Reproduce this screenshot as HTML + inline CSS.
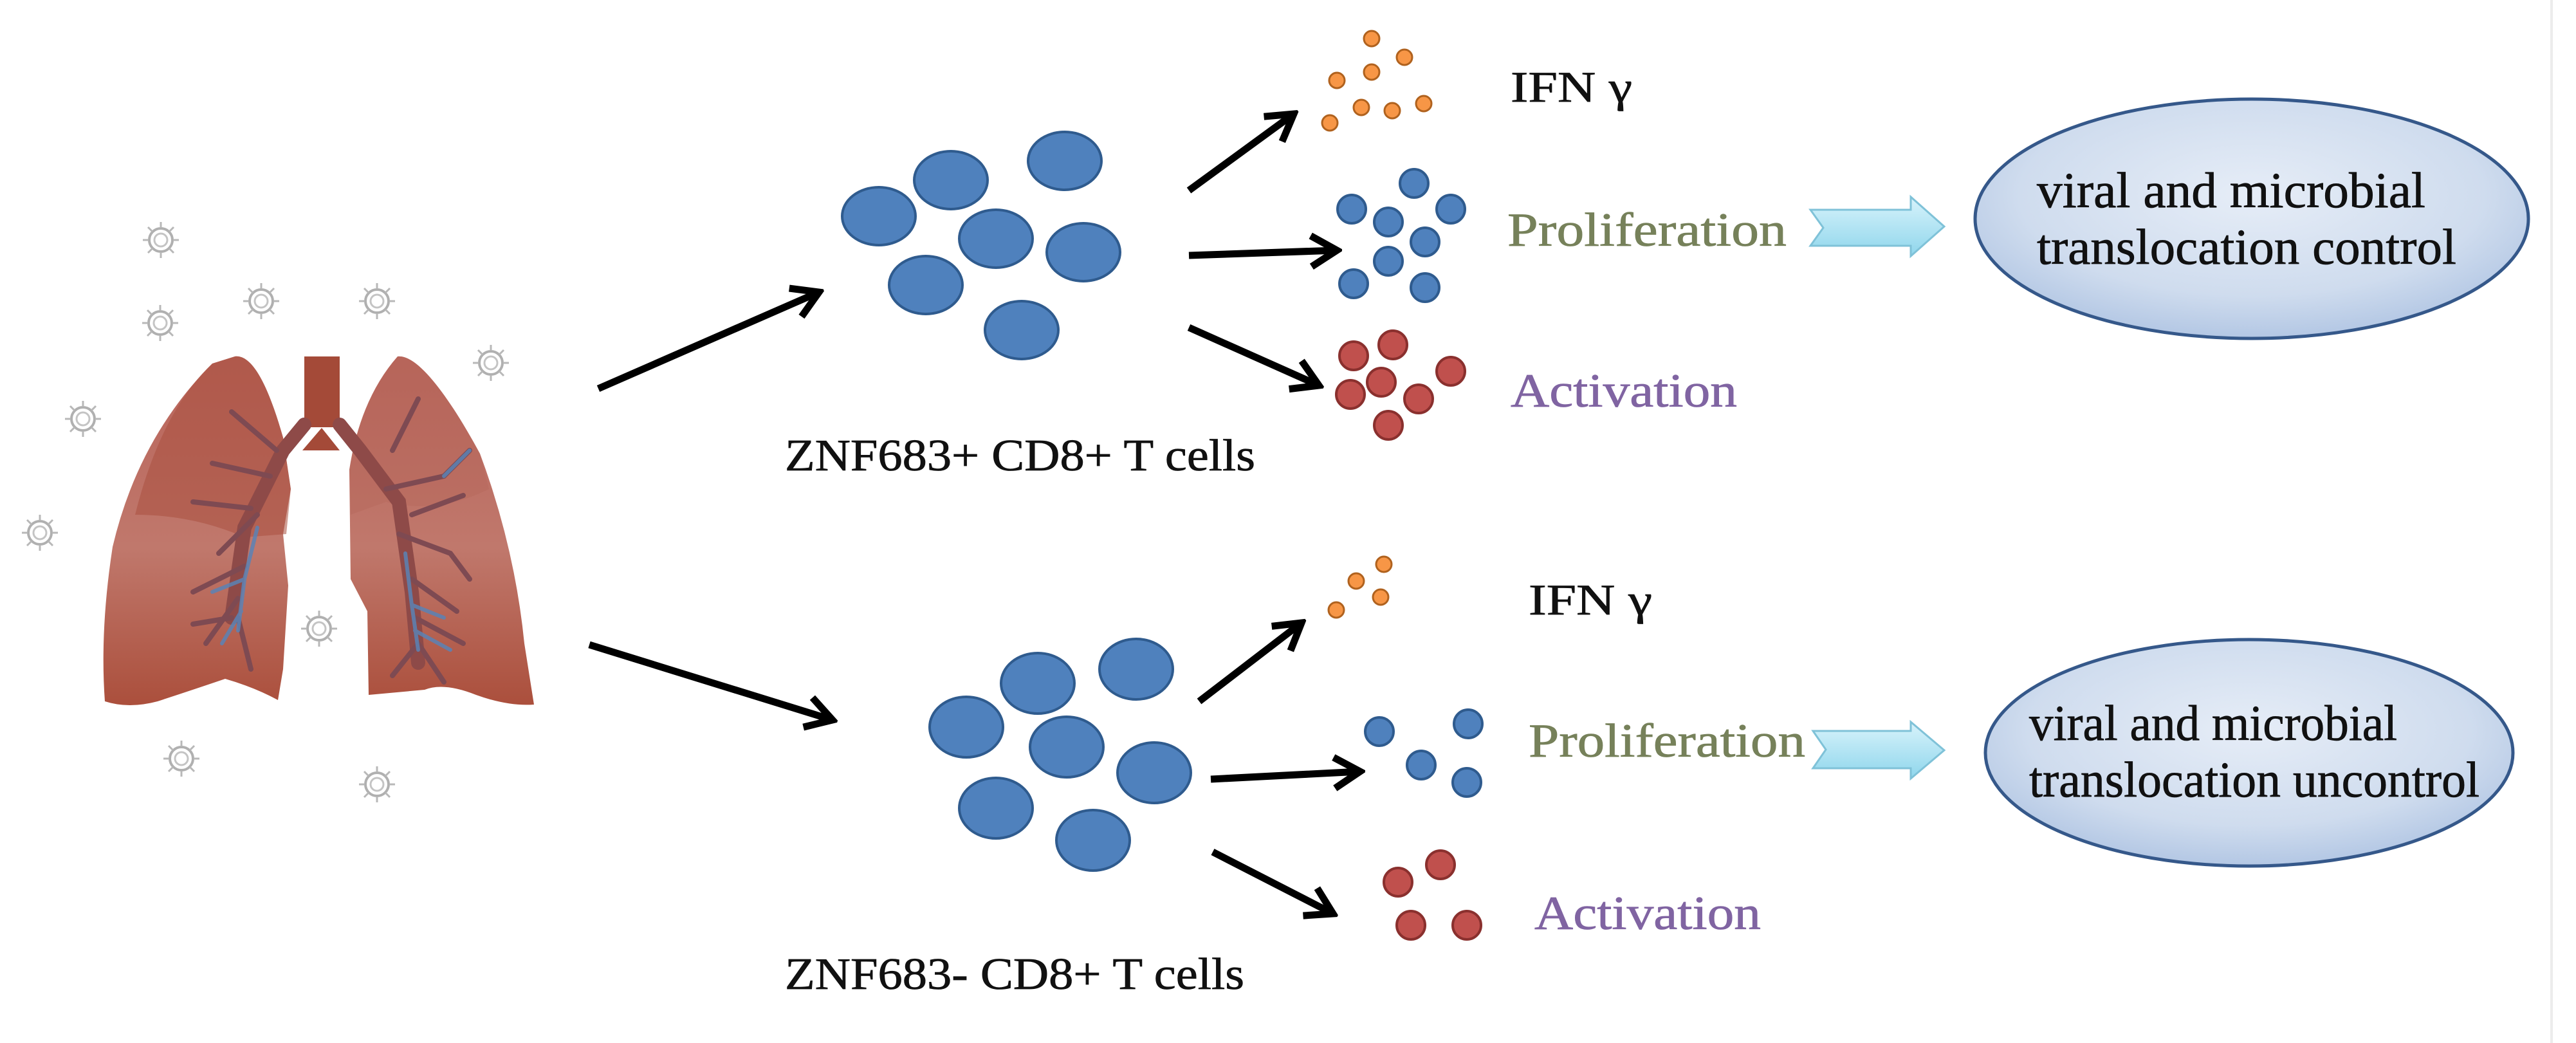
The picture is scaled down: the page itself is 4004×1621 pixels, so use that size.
<!DOCTYPE html>
<html><head><meta charset="utf-8"><style>
html,body{margin:0;padding:0;background:#fff;}
svg{display:block;}
</style></head><body>
<svg width="4004" height="1621" viewBox="0 0 4004 1621" xmlns="http://www.w3.org/2000/svg">
<defs>
<marker id="ah" markerUnits="userSpaceOnUse" viewBox="0 0 60 60" markerWidth="60" markerHeight="60" refX="52" refY="30" orient="auto">
<path d="M12,6 L52,30 L12,54" fill="none" stroke="#000" stroke-width="11" stroke-linejoin="miter"/>
</marker>
<radialGradient id="eg" cx="50%" cy="40%" r="60%">
<stop offset="0" stop-color="#e6edf7"/><stop offset="0.7" stop-color="#cfdcee"/><stop offset="1" stop-color="#b3c7e4"/>
</radialGradient>
<linearGradient id="bg" x1="0" y1="0" x2="0" y2="1">
<stop offset="0" stop-color="#d8f3fb"/><stop offset="1" stop-color="#8fd6ec"/>
</linearGradient>
<linearGradient id="lg" x1="0" y1="0" x2="0" y2="1">
<stop offset="0" stop-color="#b9645a"/><stop offset="0.55" stop-color="#c0786c"/><stop offset="1" stop-color="#ab4f3c"/>
</linearGradient>
<g id="vir">
<circle r="18" fill="#fff" stroke="#b0b0b0" stroke-width="4"/>
<circle r="10" fill="none" stroke="#c4c4c4" stroke-width="3"/>
<g stroke="#b8b8b8" stroke-width="3">
<line x1="0" y1="-19" x2="0" y2="-28"/><line x1="0" y1="19" x2="0" y2="28"/>
<line x1="-19" y1="0" x2="-28" y2="0"/><line x1="19" y1="0" x2="28" y2="0"/>
<line x1="13" y1="13" x2="20" y2="20"/><line x1="-13" y1="-13" x2="-20" y2="-20"/>
<line x1="13" y1="-13" x2="20" y2="-20"/><line x1="-13" y1="13" x2="-20" y2="20"/>
</g>
</g>
</defs>

<line x1="3966" y1="0" x2="3966" y2="1621" stroke="#ececec" stroke-width="4"/>

<use href="#vir" x="250" y="373"/><use href="#vir" x="249" y="502"/><use href="#vir" x="406" y="468"/>
<use href="#vir" x="586" y="468"/><use href="#vir" x="763" y="564"/><use href="#vir" x="129" y="651"/>
<use href="#vir" x="62" y="828"/><use href="#vir" x="496" y="977"/><use href="#vir" x="282" y="1179"/>
<use href="#vir" x="586" y="1219"/>

<path d="M365,554 C395,550 420,610 440,680 L452,760 L440,830 L448,910 L440,1040 L432,1088 Q395,1068 350,1055 Q300,1072 245,1090 Q200,1102 163,1090 Q155,980 175,850 Q215,680 330,565 Z" fill="url(#lg)"/>
<path d="M365,554 C395,550 420,610 440,680 L452,760 L445,830 L380,835 Q300,800 210,800 Q250,640 330,565 Z" fill="#a9503f" opacity="0.55"/>
<path d="M618,554 C650,550 700,620 746,705 Q800,850 815,1000 L830,1095 Q790,1098 740,1080 Q690,1060 660,1072 L573,1080 L571,950 L545,900 L543,730 Q560,620 618,554 Z" fill="url(#lg)"/>
<path d="M618,554 C650,550 700,620 746,705 L760,760 Q680,800 600,780 L545,800 L543,730 Q560,620 618,554 Z" fill="#b5665a" opacity="0.4"/>
<rect x="473" y="554" width="55" height="110" fill="#a44a38"/>
<path d="M473,660 L440,700 L380,820 L360,960 M528,660 L560,700 L620,780 L640,920 L650,1030" fill="none" stroke="#8e4a48" stroke-width="22" stroke-linecap="round"/>
<path d="M440,700 L470,700 L500,665 L528,700 L560,700" fill="#a44a38"/>
<g fill="none" stroke="#7e4a52" stroke-width="8" stroke-linecap="round">
<path d="M420,740 L330,720 M390,790 L300,780 M430,700 L360,640 M400,800 L340,860 M380,880 L300,920 M370,930 L320,1000 M370,960 L390,1040 M360,960 L300,970"/>
<path d="M600,760 L690,740 L730,700 M640,800 L720,770 M620,830 L700,860 L730,900 M640,900 L710,950 M645,960 L720,1000 M650,1000 L610,1050 M650,1000 L690,1060 M610,700 L650,620"/>
</g>
<g fill="none" stroke="#5b82b5" stroke-width="6" stroke-linecap="round" opacity="0.85">
<path d="M400,820 L380,900 L370,980 M380,900 L330,920 M375,950 L345,1000"/>
<path d="M630,860 L640,940 L650,1010 M640,940 L690,960 M645,980 L700,1010 M690,740 L730,700"/>
</g>

<g stroke="#000" stroke-width="11" fill="none" marker-end="url(#ah)">
<line x1="930" y1="604" x2="1273" y2="454"/>
<line x1="916" y1="1002" x2="1294" y2="1119"/>
<line x1="1848" y1="296" x2="2011" y2="177"/>
<line x1="1848" y1="397" x2="2078" y2="389"/>
<line x1="1848" y1="509" x2="2050" y2="599"/>
<line x1="1864" y1="1090" x2="2023" y2="968"/>
<line x1="1882" y1="1211" x2="2114" y2="1199"/>
<line x1="1885" y1="1324" x2="2072" y2="1420"/>
</g>

<g fill="#4f81bd" stroke="#2f5b8e" stroke-width="4">
<ellipse cx="1366" cy="336" rx="57" ry="45"/><ellipse cx="1478" cy="280" rx="57" ry="45"/>
<ellipse cx="1655" cy="250" rx="57" ry="45"/><ellipse cx="1548" cy="371" rx="57" ry="45"/>
<ellipse cx="1684" cy="392" rx="57" ry="45"/><ellipse cx="1439" cy="443" rx="57" ry="45"/>
<ellipse cx="1588" cy="513" rx="57" ry="45"/>
<ellipse cx="1502" cy="1130" rx="57" ry="47"/><ellipse cx="1613" cy="1062" rx="57" ry="47"/>
<ellipse cx="1766" cy="1040" rx="57" ry="47"/><ellipse cx="1658" cy="1161" rx="57" ry="47"/>
<ellipse cx="1794" cy="1201" rx="57" ry="47"/><ellipse cx="1548" cy="1256" rx="57" ry="47"/>
<ellipse cx="1699" cy="1306" rx="57" ry="47"/>
</g>
<g fill="#4f81bd" stroke="#2f5b8e" stroke-width="4">
<ellipse cx="2198" cy="285" rx="22" ry="22"/><ellipse cx="2101" cy="325" rx="22" ry="22"/>
<ellipse cx="2255" cy="325" rx="22" ry="22"/><ellipse cx="2158" cy="345" rx="22" ry="22"/>
<ellipse cx="2215" cy="376" rx="22" ry="22"/><ellipse cx="2158" cy="406" rx="22" ry="22"/>
<ellipse cx="2104" cy="441" rx="22" ry="22"/><ellipse cx="2215" cy="447" rx="22" ry="22"/>
<ellipse cx="2144" cy="1137" rx="22" ry="22"/><ellipse cx="2282" cy="1125" rx="22" ry="22"/>
<ellipse cx="2209" cy="1189" rx="22" ry="22"/><ellipse cx="2280" cy="1216" rx="22" ry="22"/>
</g>
<g fill="#c0504d" stroke="#8a302e" stroke-width="4">
<ellipse cx="2165" cy="536" rx="22" ry="22"/><ellipse cx="2104" cy="553" rx="22" ry="22"/>
<ellipse cx="2255" cy="577" rx="22" ry="22"/><ellipse cx="2147" cy="594" rx="22" ry="22"/>
<ellipse cx="2099" cy="613" rx="22" ry="22"/><ellipse cx="2205" cy="620" rx="22" ry="22"/>
<ellipse cx="2158" cy="661" rx="22" ry="22"/>
<ellipse cx="2239" cy="1344" rx="22" ry="22"/><ellipse cx="2173" cy="1371" rx="22" ry="22"/>
<ellipse cx="2193" cy="1438" rx="22" ry="22"/><ellipse cx="2280" cy="1438" rx="22" ry="22"/>
</g>
<g fill="#f79646" stroke="#b0621e" stroke-width="3">
<circle cx="2132" cy="60" r="12"/><circle cx="2183" cy="89" r="12"/><circle cx="2132" cy="112" r="12"/>
<circle cx="2078" cy="125" r="12"/><circle cx="2067" cy="191" r="12"/><circle cx="2116" cy="167" r="12"/>
<circle cx="2164" cy="172" r="12"/><circle cx="2213" cy="161" r="12"/>
<circle cx="2151" cy="877" r="12"/><circle cx="2108" cy="903" r="12"/><circle cx="2146" cy="928" r="12"/>
<circle cx="2077" cy="948" r="12"/>
</g>

<g font-family="Liberation Serif, serif" stroke-width="0.8">
<text x="2348" y="158" font-size="68" fill="#111" stroke="#111" textLength="189" lengthAdjust="spacingAndGlyphs">IFN γ</text>
<text x="2343" y="382" font-size="74" fill="#76815a" stroke="#76815a" textLength="434" lengthAdjust="spacingAndGlyphs">Proliferation</text>
<text x="2348" y="632" font-size="74" fill="#8064a2" stroke="#8064a2" textLength="352" lengthAdjust="spacingAndGlyphs">Activation</text>
<text x="2376" y="955" font-size="68" fill="#111" stroke="#111" textLength="192" lengthAdjust="spacingAndGlyphs">IFN γ</text>
<text x="2376" y="1176" font-size="74" fill="#76815a" stroke="#76815a" textLength="430" lengthAdjust="spacingAndGlyphs">Proliferation</text>
<text x="2385" y="1444" font-size="74" fill="#8064a2" stroke="#8064a2" textLength="352" lengthAdjust="spacingAndGlyphs">Activation</text>
<text x="1220" y="731" font-size="70" fill="#111" stroke="#111" textLength="731" lengthAdjust="spacingAndGlyphs">ZNF683+ CD8+ T cells</text>
<text x="1220" y="1537" font-size="70" fill="#111" stroke="#111" textLength="714" lengthAdjust="spacingAndGlyphs">ZNF683- CD8+ T cells</text>
</g>

<path d="M2814,326 L2970,326 L2970,306 L3022,352 L2970,398 L2970,382 L2814,382 L2834,354 Z" fill="url(#bg)" stroke="#7fc2d8" stroke-width="3"/>
<path d="M2818,1136 L2970,1136 L2970,1122 L3022,1166 L2970,1210 L2970,1194 L2818,1194 L2838,1165 Z" fill="url(#bg)" stroke="#7fc2d8" stroke-width="3"/>

<ellipse cx="3500" cy="340" rx="430" ry="186" fill="url(#eg)" stroke="#35588a" stroke-width="5"/>
<ellipse cx="3496" cy="1170" rx="410" ry="176" fill="url(#eg)" stroke="#35588a" stroke-width="5"/>
<g font-family="Liberation Serif, serif" stroke-width="0.8" fill="#111" stroke="#111">
<text x="3166" y="322" font-size="78" textLength="604" lengthAdjust="spacingAndGlyphs">viral and microbial</text>
<text x="3166" y="410" font-size="78" textLength="652" lengthAdjust="spacingAndGlyphs">translocation control</text>
<text x="3154" y="1150" font-size="78" textLength="572" lengthAdjust="spacingAndGlyphs">viral and microbial</text>
<text x="3154" y="1238" font-size="78" textLength="700" lengthAdjust="spacingAndGlyphs">translocation uncontrol</text>
</g>
</svg>
</body></html>
